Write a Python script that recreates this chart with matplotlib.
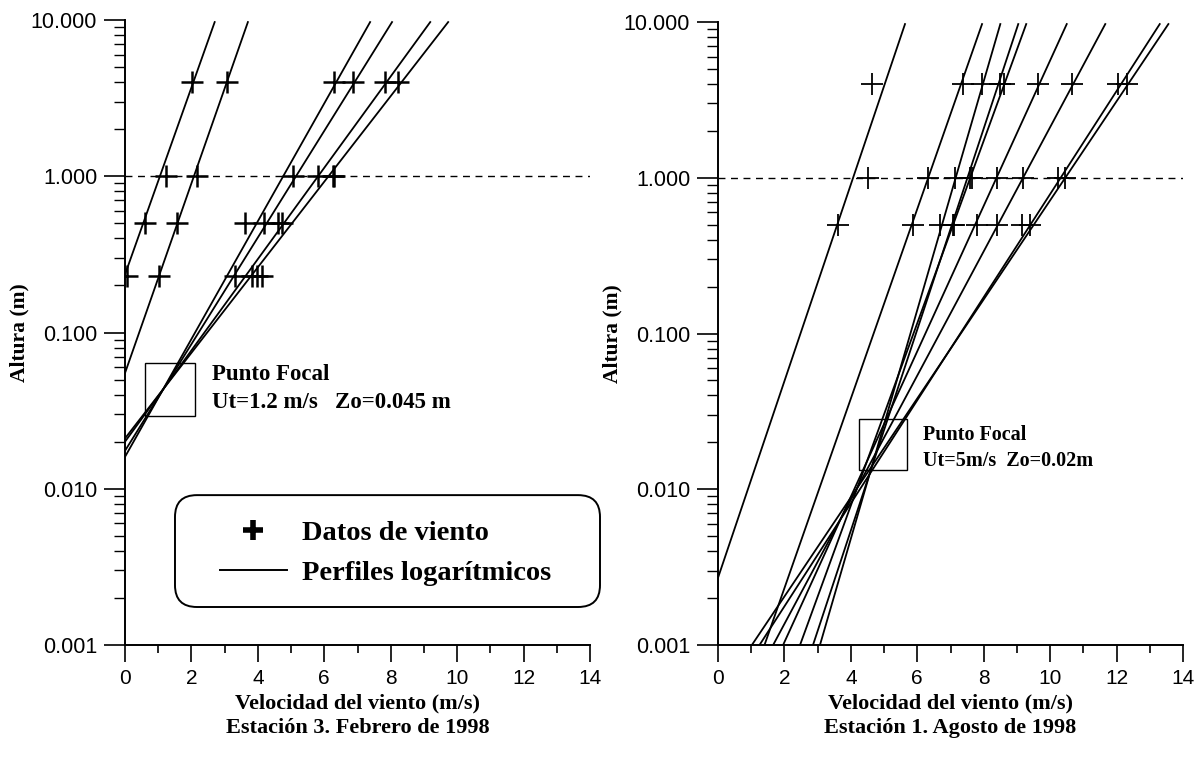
import matplotlib
matplotlib.use("Agg")
import matplotlib.pyplot as plt
from matplotlib.lines import Line2D
from matplotlib.patches import Rectangle, FancyBboxPatch
from matplotlib.ticker import FixedLocator, FormatStrFormatter, LogLocator, NullFormatter, MultipleLocator

# ---------------- data ----------------
# Estacion 3 - Febrero 1998 : measured wind speed (m/s) at each height
left_heights = [0.23, 0.5, 1.0, 4.0]
left_speeds = [
    [0.06, 0.60, 1.23, 2.02],
    [1.03, 1.57, 2.17, 3.07],
    [3.31, 3.61, 5.06, 6.30],
    [3.82, 4.19, 5.81, 6.87],
    [3.97, 4.60, 6.27, 7.83],
    [4.12, 4.72, 6.30, 8.22],
]
# fitted log profiles: end points (speed, height)
left_line_u = [[0.0, 2.70], [0.0, 3.70], [0.0, 7.38], [0.0, 8.04], [0.0, 9.19], [0.0, 9.73]]
left_line_z = [[0.235, 9.7], [0.055, 9.7], [0.016, 9.7], [0.0175, 9.7], [0.020, 9.7], [0.021, 9.7]]
left_focal_u = [0.60, 2.11]
left_focal_z = [0.0294, 0.064]

# Estacion 1 - Agosto 1998
right_heights = [0.5, 1.0, 4.0]
right_speeds = [
    [3.61, 4.52, 4.64],
    [5.87, 6.33, 7.38],
    [6.69, 7.14, 7.95],
    [7.08, 7.59, 8.49],
    [7.12, 7.65, 8.60],
    [7.80, 8.40, 9.64],
    [8.40, 9.19, 10.66],
    [9.16, 10.24, 12.05],
    [9.40, 10.45, 12.30],
]
right_line_u = [[0.0, 5.63], [1.40, 7.95], [3.07, 8.50], [2.86, 9.04], [2.47, 9.28],
                [1.96, 10.50], [1.66, 11.66], [1.25, 13.30], [1.02, 13.56]]
right_line_z = [[0.0027, 9.7], [0.001, 9.7], [0.001, 9.7], [0.001, 9.7], [0.001, 9.7],
                [0.001, 9.7], [0.001, 9.7], [0.001, 9.7], [0.001, 9.7]]
right_focal_u = [4.25, 5.69]
right_focal_z = [0.0133, 0.0283]

y_ticks = [0.001, 0.01, 0.1, 1.0, 10.0]
x_ticks = [0, 2, 4, 6, 8, 10, 12, 14]

SERIF = "Liberation Serif"
SANS = "Liberation Sans"


def style_axis(ax):
    ax.set_yscale("log")
    ax.set_xlim(0, 14)
    ax.set_ylim(0.001, 10)
    ax.spines["top"].set_visible(False)
    ax.spines["right"].set_visible(False)
    ax.spines["left"].set_linewidth(1.4)
    ax.spines["bottom"].set_linewidth(1.4)
    ax.xaxis.set_major_locator(FixedLocator(x_ticks))
    ax.xaxis.set_minor_locator(MultipleLocator(1))
    ax.yaxis.set_major_locator(FixedLocator(y_ticks))
    ax.yaxis.set_minor_locator(LogLocator(base=10, subs=range(2, 10)))
    ax.yaxis.set_major_formatter(FormatStrFormatter("%.3f"))
    ax.yaxis.set_minor_formatter(NullFormatter())
    ax.tick_params(axis="x", which="major", direction="out", length=12, width=1.2, pad=5)
    ax.tick_params(axis="x", which="minor", direction="out", length=6, width=1.2)
    ax.tick_params(axis="y", which="major", direction="out", length=15, width=1.2, pad=5)
    ax.tick_params(axis="y", which="minor", direction="out", length=8, width=1.0)
    for lab in ax.get_xticklabels():
        lab.set_fontfamily(SANS)
        lab.set_fontsize(15)
    for lab in ax.get_yticklabels():
        lab.set_fontfamily(SANS)
        lab.set_fontsize(15.5)
    ax.axhline(1.0, color="black", lw=1.0, ls=(0, (5, 4)), zorder=1)


def draw_panel(ax, heights, speeds, line_u, line_z, focal_u, focal_z, mew):
    for u, z in zip(line_u, line_z):
        ax.plot(u, z, color="black", lw=1.3, zorder=2)
    for s in speeds:
        ax.plot(s, heights, ls="none", marker="+", ms=16, mew=mew, color="black", zorder=3)
    ax.add_patch(Rectangle((focal_u[0], focal_z[0]), focal_u[1] - focal_u[0],
                           focal_z[1] - focal_z[0], fill=False, ec="black", lw=1.0, zorder=4))


fig = plt.figure(figsize=(12, 7.6), dpi=100)
ax1 = fig.add_axes([125 / 1200, 115 / 760, 465 / 1200, 625 / 760])
ax2 = fig.add_axes([718 / 1200, 115 / 760, 465 / 1200, 623 / 760])

for ax in (ax1, ax2):
    style_axis(ax)

draw_panel(ax1, left_heights, left_speeds, left_line_u, left_line_z, left_focal_u, left_focal_z, 1.8)
draw_panel(ax2, right_heights, right_speeds, right_line_u, right_line_z, right_focal_u, right_focal_z, 1.3)

# focal point notes
ax1.text(2.61, 0.0538, "Punto Focal", family=SERIF, weight="bold", fontsize=16.5, ha="left", va="center")
ax1.text(2.61, 0.0356, "Ut=1.2 m/s   Zo=0.045 m", family=SERIF, weight="bold", fontsize=16.5,
         ha="left", va="center")
ax2.text(6.17, 0.0224, "Punto Focal", family=SERIF, weight="bold", fontsize=14.5, ha="left", va="center")
ax2.text(6.17, 0.0152, "Ut=5m/s  Zo=0.02m", family=SERIF, weight="bold", fontsize=14.5,
         ha="left", va="center")

# labels
for ax, sub in ((ax1, "Estación 3. Febrero de 1998"), (ax2, "Estación 1. Agosto de 1998")):
    ax.set_xlabel("Velocidad del viento (m/s)\n" + sub, family=SERIF, weight="bold",
                  fontsize=16, linespacing=1.3)
    ax.xaxis.set_label_coords(0.5, -0.078)
    ax.set_ylabel("Altura (m)", family=SERIF, weight="bold", fontsize=15.5)
    ax.yaxis.set_label_coords(-0.205, 0.5)

# legend box (rounded) on left panel
box = FancyBboxPatch((0.1075, 0.0608), 0.914, 0.179,
                     boxstyle="round,pad=0,rounding_size=0.047", mutation_aspect=0.744,
                     transform=ax1.transAxes, fc="white", ec="black", lw=1.4,
                     clip_on=False, zorder=5)
ax1.add_patch(box)
handles = [
    Line2D([], [], ls="none", marker="+", ms=15, mew=4, color="black"),
    Line2D([], [], color="black", lw=1.4),
]
leg = ax1.legend(handles, ["Datos de viento", "Perfiles logarítmicos"],
                 loc="center left", bbox_to_anchor=(0.204, 0.147), frameon=False,
                 borderpad=0, borderaxespad=0, handlelength=2.35, handletextpad=0.55,
                 labelspacing=0.5, prop={"family": SERIF, "weight": "bold", "size": 20.5})
leg.set_zorder(6)

fig.savefig("out.png", dpi=100, facecolor="white")
